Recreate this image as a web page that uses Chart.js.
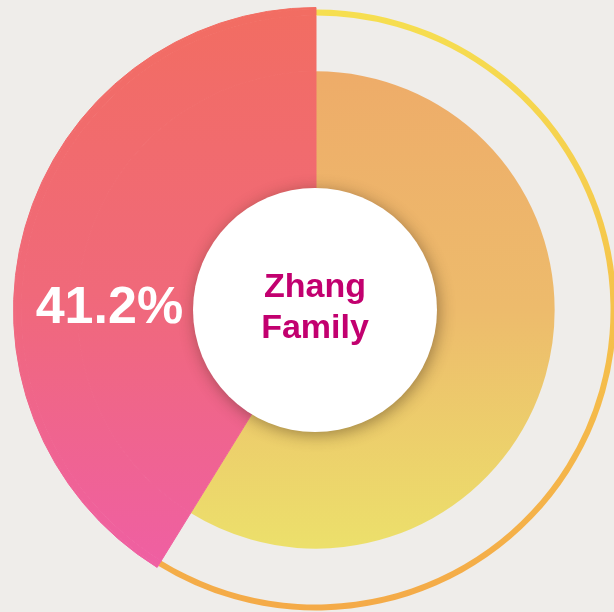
<!DOCTYPE html>
<html>
<head>
    <meta charset="utf-8">
    <script src="https://cdn.jsdelivr.net/npm/chart.js@4.4.1/dist/chart.umd.min.js"></script>
    <style>
    body { margin:0; background:#efedea; overflow:hidden; }
    .chartBox { position:absolute; left:13px; top:7px; width:606px; height:606px; }
    </style>
</head>
<body>
<div class="chartBox">
    <canvas id="myChart"></canvas>
</div>
<script>
// data
var categories = ['Others', 'Zhang Family'];
var shares = [58.8, 41.2];
var highlight = 1;            // the slice that sticks out and gets a label
var centerLabel = ['Zhang', 'Family'];

function outerR(chart){
    var m = chart.getDatasetMeta(0);
    return (m && m.controller && m.controller.outerRadius) || 303;
}

// vertical gradients, placed relative to the doughnut centre
function vGrad(chart, top, bottom, stops){
    var c = chart.ctx;
    var cy = (chart.chartArea.top + chart.chartArea.bottom) / 2;
    var r = outerR(chart);
    var g = c.createLinearGradient(0, cy + top * r, 0, cy + bottom * r);
    stops.forEach(function(s){ g.addColorStop(s[0], s[1]); });
    return g;
}
function pink(ctx){
    if (!ctx.chart.chartArea) return '#f06a78';
    return vGrad(ctx.chart, -1, 0.88, [[0,'#f26d62'],[0.5,'#f0697a'],[1,'#ef5fa4']]);
}
function orange(ctx){
    if (!ctx.chart.chartArea) return '#eeb86a';
    return vGrad(ctx.chart, -0.79, 0.79, [[0,'#eeac69'],[0.5,'#edbb6c'],[1,'#ece06b']]);
}
function ring(ctx){
    if (!ctx.chart.chartArea) return '#f5c24b';
    return vGrad(ctx.chart, -1, 1, [[0,'#f6df50'],[0.5,'#f5c24b'],[1,'#f4aa48']]);
}

// one ring per band: pink tip, thin outline, gap, main ring
function band(weight, otherColor){
    return {
        data: shares,
        weight: weight,
        backgroundColor: function(ctx){
            if (ctx.dataIndex == highlight) return pink(ctx);
            return otherColor ? otherColor(ctx) : 'rgba(0,0,0,0)';
        },
        borderColor: function(ctx){
            return ctx.dataIndex == highlight ? pink(ctx) : 'rgba(0,0,0,0)';
        },
        borderWidth: function(ctx){ return ctx.dataIndex == highlight ? 1 : 0; }
    };
}

var centerPlugin = {
    id: 'centerPlugin',
    afterDatasetsDraw: function(chart){
        var c = chart.ctx;
        var cx = (chart.chartArea.left + chart.chartArea.right) / 2;
        var cy = (chart.chartArea.top + chart.chartArea.bottom) / 2;
        var R = outerR(chart);
        c.save();
        c.shadowColor = 'rgba(60,40,20,0.45)';
        c.shadowBlur = 16;
        c.shadowOffsetX = 2;
        c.shadowOffsetY = 3;
        c.fillStyle = '#ffffff';
        c.beginPath();
        c.arc(cx - 1, cy, 122, 0, Math.PI * 2);
        c.fill();
        c.restore();

        c.save();
        c.fillStyle = '#c2006f';
        c.font = 'bold 34px "Liberation Sans", Arial, sans-serif';
        c.textAlign = 'center';
        c.textBaseline = 'alphabetic';
        c.fillText(centerLabel[0], cx - 1, cy - 13);
        c.fillText(centerLabel[1], cx - 1, cy + 28);

        c.fillStyle = '#ffffff';
        c.font = 'bold 52px "Liberation Sans", Arial, sans-serif';
        c.fillText(shares[highlight].toFixed(1) + '%', cx - 0.683 * R, cy + 13);
        c.restore();
    }
};

var ctx = document.getElementById('myChart').getContext('2d');
var myChart = new Chart(ctx, {
    type: 'doughnut',
    data: {
        labels: categories,
        datasets: [
            band(2),
            band(6, ring),
            band(56),
            band(139, orange)
        ]
    },
    options: {
        responsive: true,
        maintainAspectRatio: false,
        animation: false,
        events: [],
        cutout: 100,
        rotation: 0,
        layout: { padding: 0 },
        plugins: {
            legend: { display: false },
            tooltip: { enabled: false }
        }
    },
    plugins: [centerPlugin]
});
</script>
</body>
</html>
